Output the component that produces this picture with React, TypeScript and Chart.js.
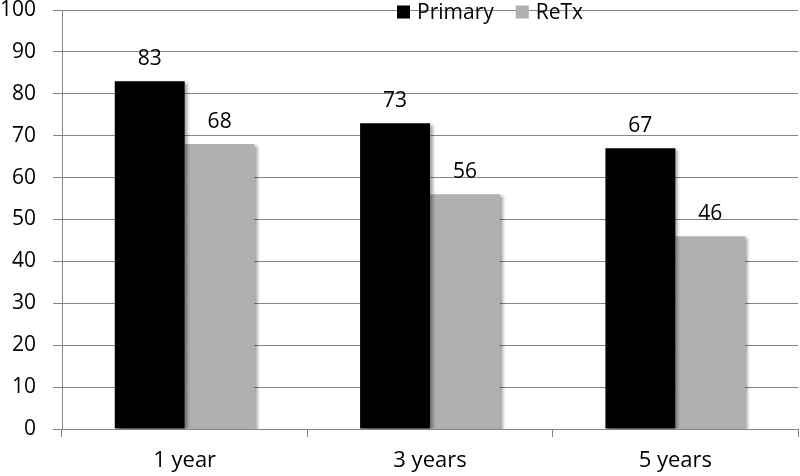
import React, { useEffect, useRef } from "react";
import { Chart, registerables } from "chart.js";

Chart.register(...registerables);

const categories = ["1 year", "3 years", "5 years"];
const primaryValues = [83, 73, 67];
const retxValues = [68, 56, 46];
const seriesNames = ["Primary", "ReTx"];
const seriesColors = ["#000000", "#b0b0b0"];

const FONT = "'Open Sans', 'Liberation Sans', sans-serif";

const shadowPlugin = {
  id: "barShadow",
  beforeDatasetDraw(chart: any) {
    const ctx = chart.ctx;
    ctx.save();
    ctx.shadowColor = "rgba(0,0,0,0.35)";
    ctx.shadowBlur = 3;
    ctx.shadowOffsetX = 3;
    ctx.shadowOffsetY = 2;
  },
  afterDatasetDraw(chart: any) {
    chart.ctx.restore();
  },
};

const labelPlugin = {
  id: "valueLabels",
  afterDatasetsDraw(chart: any) {
    const ctx = chart.ctx;
    ctx.save();
    ctx.font = `21px ${FONT}`;
    ctx.fillStyle = "#000";
    ctx.textAlign = "center";
    ctx.textBaseline = "middle";
    chart.data.datasets.forEach((ds: any, i: number) => {
      const meta = chart.getDatasetMeta(i);
      meta.data.forEach((bar: any, j: number) => {
        ctx.fillText(String(ds.data[j]), bar.x, bar.y - 22);
      });
    });
    ctx.restore();
  },
};

const legendPlugin = {
  id: "customLegend",
  afterDraw(chart: any) {
    const ctx = chart.ctx;
    ctx.save();
    ctx.font = `21px ${FONT}`;
    ctx.textBaseline = "middle";
    const y = 12;
    const box = 13;
    let x = 397;
    seriesNames.forEach((name, i) => {
      ctx.fillStyle = seriesColors[i];
      ctx.fillRect(x, y - box / 2, box, box);
      ctx.fillStyle = "#000";
      ctx.textAlign = "left";
      ctx.fillText(name, x + box + 7, y + 1);
      x += box + 7 + ctx.measureText(name).width + 22;
    });
    ctx.restore();
  },
};

export default function App() {
  const ref = useRef<HTMLCanvasElement | null>(null);
  useEffect(() => {
    document.body.style.margin = "0";
    const chart = new Chart(ref.current as HTMLCanvasElement, {
      type: "bar",
      data: {
        labels: categories,
        datasets: [
          {
            label: seriesNames[0],
            data: primaryValues,
            backgroundColor: seriesColors[0],
            categoryPercentage: 0.57,
            barPercentage: 1,
          },
          {
            label: seriesNames[1],
            data: retxValues,
            backgroundColor: seriesColors[1],
            categoryPercentage: 0.57,
            barPercentage: 1,
          },
        ],
      },
      options: {
        animation: false,
        responsive: false,
        layout: { padding: { top: 10, right: 2, left: 0, bottom: 0 } },
        plugins: {
          legend: { display: false },
          tooltip: { enabled: false },
        },
        scales: {
          x: {
            offset: true,
            grid: {
              offset: true,
              drawOnChartArea: false,
              drawTicks: true,
              tickLength: 8,
              color: "#868686",
            },
            border: { color: "#868686" },
            ticks: {
              font: { family: FONT, size: 22 },
              color: "#000",
              padding: 11,
            },
            afterFit(scale: any) {
              scale.height = 47;
              scale.paddingLeft = 0;
              scale.paddingRight = 0;
            },
          },
          y: {
            min: 0,
            max: 100,
            ticks: {
              stepSize: 10,
              font: { family: FONT, size: 21 },
              color: "#000",
              padding: 17,
            },
            grid: {
              color: "#868686",
              tickLength: 9,
            },
            border: { color: "#868686" },
            afterFit(scale: any) {
              scale.width = 62;
              scale.paddingTop = 0;
              scale.paddingBottom = 0;
            },
          },
        },
      },
      plugins: [shadowPlugin, labelPlugin, legendPlugin],
    });
    return () => chart.destroy();
  }, []);
  return <canvas ref={ref} width={800} height={476} style={{ display: "block" }} />;
}
